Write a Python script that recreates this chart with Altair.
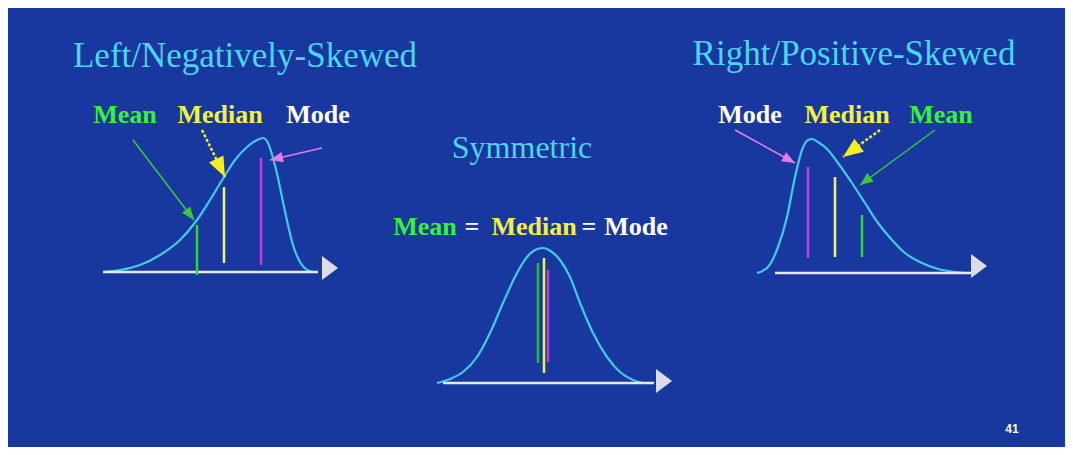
import math
import pandas as pd
import altair as alt

# ---------------- data (diagram units = picture pixels) ----------------
# Left / negatively skewed curve
left_x = [103, 120, 140, 160, 180, 197, 210, 224, 235, 247, 257, 263, 268, 273, 278, 283, 288, 293, 300, 307, 313]
left_y = [272, 270, 265, 255, 240, 220, 200, 177, 160, 147, 140, 138, 143, 158, 178, 202, 225, 245, 262, 270, 272]
# Symmetric curve
mid_x = [437, 450, 463, 477, 490, 503, 517, 527, 535, 543, 552, 560, 570, 580, 593, 607, 620, 633, 643]
mid_y = [383, 379, 372, 357, 333, 303, 273, 257, 250, 248, 252, 260, 277, 303, 333, 357, 372, 380, 383]
# Right / positively skewed curve
right_x = [757, 768, 778, 787, 795, 802, 808, 812, 818, 828, 838, 852, 865, 878, 892, 905, 922, 938, 955, 968]
right_y = [273, 267, 247, 217, 177, 150, 140, 139, 142, 150, 163, 183, 203, 223, 240, 253, 263, 269, 272, 273]

# Horizontal axes with arrowheads
axis_x1 = [103, 443, 775]
axis_x2 = [318, 654, 971]
axis_y = [272, 383, 273]
axis_tip_x = [338, 672, 987]
axis_tip_y = [268, 381, 266]

# Mean / median / mode marker lines
marker_x = [197, 224, 261, 538, 544, 548, 808, 835, 862]
marker_y1 = [225, 187, 158, 263, 258, 270, 167, 177, 215]
marker_y2 = [275, 263, 265, 363, 373, 362, 258, 257, 257]
marker_color = ["#2ed82e", "#f2f070", "#c43ae8", "#22c022", "#f4f050", "#c43ae8", "#c43ae8", "#f2f070", "#2ed82e"]

# Pointer arrows (start -> tip)
arrow_x1 = [133, 322, 735, 935]
arrow_y1 = [140, 148, 130, 130]
arrow_x2 = [194, 270, 795, 860]
arrow_y2 = [220, 160, 163, 185]
arrow_color = ["#3cc83c", "#e47ce8", "#e47ce8", "#3cc83c"]
yarrow_x1 = [202, 880]
yarrow_y1 = [130, 130]
yarrow_x2 = [225, 843]
yarrow_y2 = [177, 157]

# Texts
title_text = ["Left/Negatively-Skewed", "Right/Positive-Skewed", "Symmetric"]
title_x = [245, 854, 522]
title_y = [67, 65, 158]
title_size = [35, 35, 32]

label_text = ["Mean", "Median", "Mode", "Mode", "Median", "Mean", "Mean", "=", "Median", "=", "Mode"]
label_x = [125, 220, 318, 750, 847, 941, 425, 472, 534, 589, 636]
label_y = [123, 123, 123, 123, 123, 123, 235, 235, 235, 235, 235]
label_color = ["#3af03a", "#f4f040", "#ffffff", "#ffffff", "#f4f040", "#3af03a",
               "#3af03a", "#ffffff", "#f4f040", "#ffffff", "#ffffff"]

page_text = ["41"]
page_x = [1012]
page_y = [433]

# ---------------- helpers ----------------
def heading(x1, y1, x2, y2):
    return math.degrees(math.atan2(x2 - x1, -(y2 - y1))) % 360

BG = "#1838a0"
XS = alt.Scale(domain=[8, 1065], nice=False, zero=False)
YS = alt.Scale(domain=[8, 447], nice=False, zero=False, reverse=True)
HEAD = "M0,0L-0.8,2L0.8,2Z"
AXHEAD = "M0,0L-1.5,2L1.5,2Z"

def X(f="x"):
    return alt.X(f"{f}:Q", scale=XS, axis=None)

def Y(f="y"):
    return alt.Y(f"{f}:Q", scale=YS, axis=None)

curves = pd.DataFrame(
    [{"curve": "left", "x": a, "y": b} for a, b in zip(left_x, left_y)]
    + [{"curve": "mid", "x": a, "y": b} for a, b in zip(mid_x, mid_y)]
    + [{"curve": "right", "x": a, "y": b} for a, b in zip(right_x, right_y)]
)
axes_df = pd.DataFrame({"x": axis_x1, "x2": axis_x2, "y": axis_y})
axis_tips = pd.DataFrame({"x": axis_tip_x, "y": axis_tip_y, "angle": [90] * 3})
markers = pd.DataFrame({"x": marker_x, "y": marker_y1, "y2": marker_y2, "color": marker_color})
arrows = pd.DataFrame({"x": arrow_x1, "y": arrow_y1, "x2": arrow_x2, "y2": arrow_y2, "color": arrow_color})
arrows["angle"] = [heading(a, b, c, d) for a, b, c, d in zip(arrow_x1, arrow_y1, arrow_x2, arrow_y2)]
yarrows = pd.DataFrame({"x": yarrow_x1, "y": yarrow_y1, "x2": yarrow_x2, "y2": yarrow_y2})
yarrows["angle"] = [heading(a, b, c, d) for a, b, c, d in zip(yarrow_x1, yarrow_y1, yarrow_x2, yarrow_y2)]
titles = pd.DataFrame({"t": title_text, "x": title_x, "y": title_y, "s": title_size})
labels = pd.DataFrame({"t": label_text, "x": label_x, "y": label_y, "color": label_color})
pages = pd.DataFrame({"t": page_text, "x": page_x, "y": page_y})

# ---------------- layers ----------------
curve_layer = alt.Chart(curves).mark_line(
    interpolate="monotone", color="#3fcbe3", strokeWidth=2.2
).encode(x=X(), y=Y(), detail="curve:N")

axis_layer = alt.Chart(axes_df).mark_rule(color="#e8e8f4", strokeWidth=2.5).encode(
    x=X(), x2="x2:Q", y=Y()
)
axis_tip_layer = alt.Chart(axis_tips).mark_point(
    shape=AXHEAD, filled=True, color="#dcdce6", opacity=1, size=256, strokeWidth=0
).encode(x=X(), y=Y(), angle=alt.Angle("angle:Q", scale=None))

marker_layer = alt.Chart(markers).mark_rule(strokeWidth=2.5).encode(
    x=X(), y=Y(), y2="y2:Q", color=alt.Color("color:N", scale=None)
)

arrow_layer = alt.Chart(arrows).mark_rule(strokeWidth=1.5).encode(
    x=X(), y=Y(), x2="x2:Q", y2="y2:Q", color=alt.Color("color:N", scale=None)
)
arrow_head_layer = alt.Chart(arrows).mark_point(
    shape=HEAD, filled=True, opacity=1, size=169, strokeWidth=0
).encode(
    x=X("x2"), y=Y("y2"), angle=alt.Angle("angle:Q", scale=None),
    color=alt.Color("color:N", scale=None)
)
yarrow_layer = alt.Chart(yarrows).mark_rule(
    strokeWidth=2.5, color="#f0ee30", strokeDash=[3, 2]
).encode(x=X(), y=Y(), x2="x2:Q", y2="y2:Q")
yarrow_head_layer = alt.Chart(yarrows).mark_point(
    shape=HEAD, filled=True, opacity=1, size=400, strokeWidth=0, color="#f4f020"
).encode(x=X("x2"), y=Y("y2"), angle=alt.Angle("angle:Q", scale=None))

title_layer = alt.Chart(titles).mark_text(
    font="Liberation Serif", color="#4ad6ee", align="center", baseline="alphabetic"
).encode(x=X(), y=Y(), text="t:N", size=alt.Size("s:Q", scale=None))

label_layer = alt.Chart(labels).mark_text(
    font="Liberation Serif", fontWeight="bold", fontSize=26, align="center", baseline="alphabetic"
).encode(x=X(), y=Y(), text="t:N", color=alt.Color("color:N", scale=None))

page_layer = alt.Chart(pages).mark_text(
    font="Liberation Sans", fontWeight="bold", fontSize=12, color="#ffffff",
    align="center", baseline="alphabetic"
).encode(x=X(), y=Y(), text="t:N")

chart = alt.layer(
    curve_layer, axis_layer, axis_tip_layer, marker_layer,
    arrow_layer, arrow_head_layer, yarrow_layer, yarrow_head_layer,
    title_layer, label_layer, page_layer,
).properties(
    width=1057, height=439, background=BG, padding=0
).configure_view(stroke=None)

chart.save("out.html", embed_options={"renderer": "svg", "actions": False})
